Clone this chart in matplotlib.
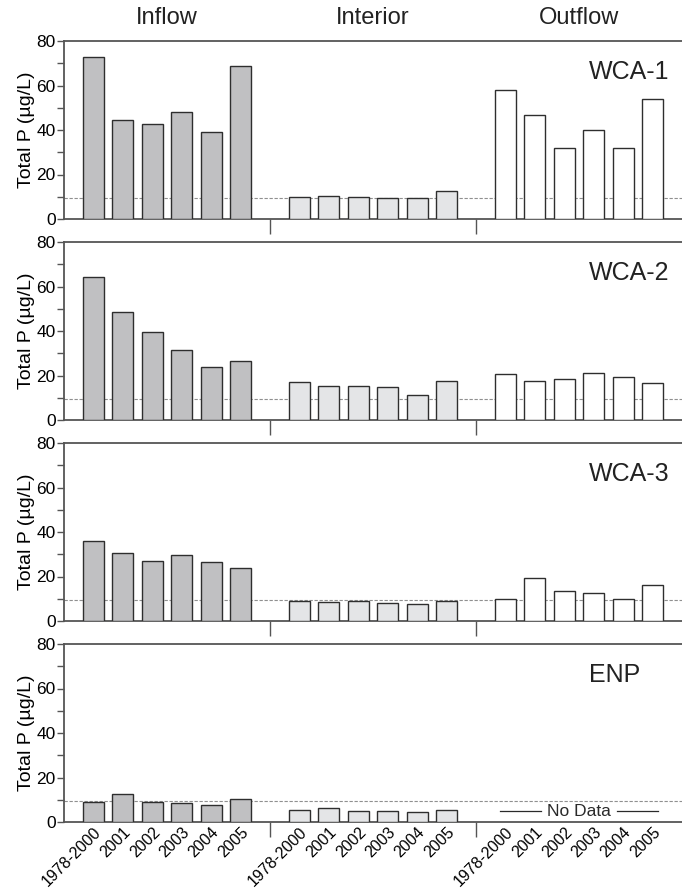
import matplotlib.pyplot as plt
import numpy as np

plt.rcParams['font.family'] = ['Liberation Sans', 'DejaVu Sans']

years = ['1978-2000', '2001', '2002', '2003', '2004', '2005']
groups = ['Inflow', 'Interior', 'Outflow']
areas = ['WCA-1', 'WCA-2', 'WCA-3', 'ENP']

wca1_inflow = [72.7, 44.3, 42.5, 48.3, 38.9, 68.8]
wca1_interior = [9.8, 10.5, 10.1, 9.6, 9.3, 12.6]
wca1_outflow = [58.0, 46.8, 32.1, 40.2, 31.7, 53.9]

wca2_inflow = [64.4, 48.6, 39.5, 31.4, 24.0, 26.3]
wca2_interior = [17.0, 15.5, 15.3, 14.9, 11.4, 17.7]
wca2_outflow = [20.7, 17.6, 18.3, 21.2, 19.2, 16.7]

wca3_inflow = [36.0, 30.4, 27.1, 29.8, 26.5, 23.9]
wca3_interior = [8.9, 8.7, 8.9, 8.0, 7.7, 9.2]
wca3_outflow = [10.1, 19.3, 13.7, 12.7, 10.1, 16.3]

enp_inflow = [8.9, 12.6, 9.2, 8.7, 7.8, 10.5]
enp_interior = [5.6, 6.3, 4.8, 4.8, 4.7, 5.3]
enp_outflow = None  # no data

ref_level = 9.5

data = [
    [wca1_inflow, wca1_interior, wca1_outflow],
    [wca2_inflow, wca2_interior, wca2_outflow],
    [wca3_inflow, wca3_interior, wca3_outflow],
    [enp_inflow, enp_interior, enp_outflow],
]
colors = ['#c0c0c2', '#e4e5e7', 'white']

fig = plt.figure(figsize=(6.82, 8.91), dpi=100)
left = 64 / 682
tops = [41, 242, 443, 644]
h = 178

for k, area in enumerate(areas):
    ax = fig.add_axes([left, 1 - (tops[k] + h) / 891, 1 - left, h / 891])
    for g in range(3):
        vals = data[k][g]
        x = np.arange(6) + 1 + 7 * g
        if vals is None:
            ax.text(x.mean(), 4.8, 'No Data', ha='center', va='center', fontsize=12.5, color='#2a2a2a')
            ax.plot([14.8, 16.2], [4.8, 4.8], color='#2a2a2a', lw=0.9)
            ax.plot([18.8, 20.2], [4.8, 4.8], color='#2a2a2a', lw=0.9)
            continue
        ax.bar(x, vals, width=0.72, color=colors[g], edgecolor='#2e2e2e', linewidth=1.0, zorder=3)
    ax.axhline(ref_level, color='#909090', lw=0.8, ls=(0, (3, 1.5)), zorder=1)

    ax.set_xlim(0, 21)
    ax.set_ylim(0, 80)
    ax.set_yticks([0, 20, 40, 60, 80])
    ax.set_yticks([10, 30, 50, 70], minor=True)
    ax.tick_params(axis='y', which='both', direction='out', length=5, width=1, color='#555555',
                   labelsize=12.5, pad=1)
    ax.set_ylabel('Total P (µg/L)', fontsize=14, labelpad=1)

    pos = [g * 7 + i + 1 for g in range(3) for i in range(6)]
    ax.set_xticks(pos)
    ax.set_xticks([7, 14], minor=True)
    ax.tick_params(axis='x', which='major', length=0, pad=2)
    ax.tick_params(axis='x', which='minor', length=11, width=1, color='#555555')
    if k == 3:
        ax.set_xticklabels(years * 3, rotation=45, ha='right', rotation_mode='anchor', fontsize=11.5)
    else:
        ax.set_xticklabels([])

    ax.spines['right'].set_visible(False)
    for s in ['left', 'top', 'bottom']:
        ax.spines[s].set_color('#555555')
        ax.spines[s].set_linewidth(1.3)

    ax.text(17.83, 66, area, ha='left', va='center', fontsize=18, color='#222222')

    if k == 0:
        for g, name in enumerate(groups):
            ax.text(3.5 + 7 * g, 1.07, name, transform=ax.get_xaxis_transform(),
                    ha='center', va='bottom', fontsize=17, color='#222222')

fig.savefig('out.png', dpi=100)
